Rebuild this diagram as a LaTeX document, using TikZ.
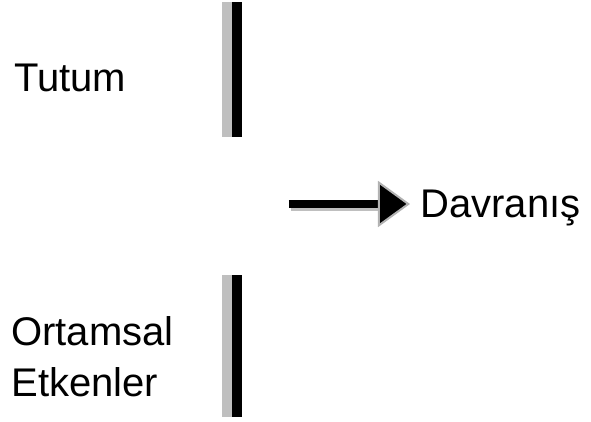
\documentclass[tikz,border=0pt]{standalone}
\usepackage{fontspec}
\setmainfont{Liberation Sans}
\usetikzlibrary{arrows.meta, positioning}
\tikzset{>=stealth}

\begin{document}
\begin{tikzpicture}[x=0.5pt,y=-0.5pt,
    lbl/.style={inner sep=0pt, anchor=base west, align=left, font=\fontsize{20}{25.5}\selectfont},
    barshade/.style={fill=black!25},
    barcore/.style={fill=black}]
            \useasboundingbox (0,0) rectangle (591,422);
            % labels
            \node[lbl] (tutum) at (14,92) {Tutum};
            \node[lbl] (ortam) at (11,397) {Ortamsal\\Etkenler};
            \node[lbl] (davranis) at (420,218) {Davranış};
            
            % the two bars
            \fill[barshade] (222,2) rectangle (232,137);
            \fill[barcore] (232,2) rectangle (242,137);
            \fill[barshade] (222,275) rectangle (232,417);
            \fill[barcore] (232,275) rectangle (242,417);
            
            % arrow
            \coordinate (start) at (289,204);
            \draw[black!25, line width=1.5pt, shorten <=1pt, shorten >=21pt]
                  ([yshift=-2.75pt]start) -- ([yshift=-2.75pt]start -| davranis.west);
            \draw[line width=4pt, shorten >=5pt,
                  -{Triangle[length=16pt, width=23pt, color=black!30, fill=black, line width=1pt]}]
                  (start) -- (start -| davranis.west);
            
            \end{tikzpicture}
\end{document}
